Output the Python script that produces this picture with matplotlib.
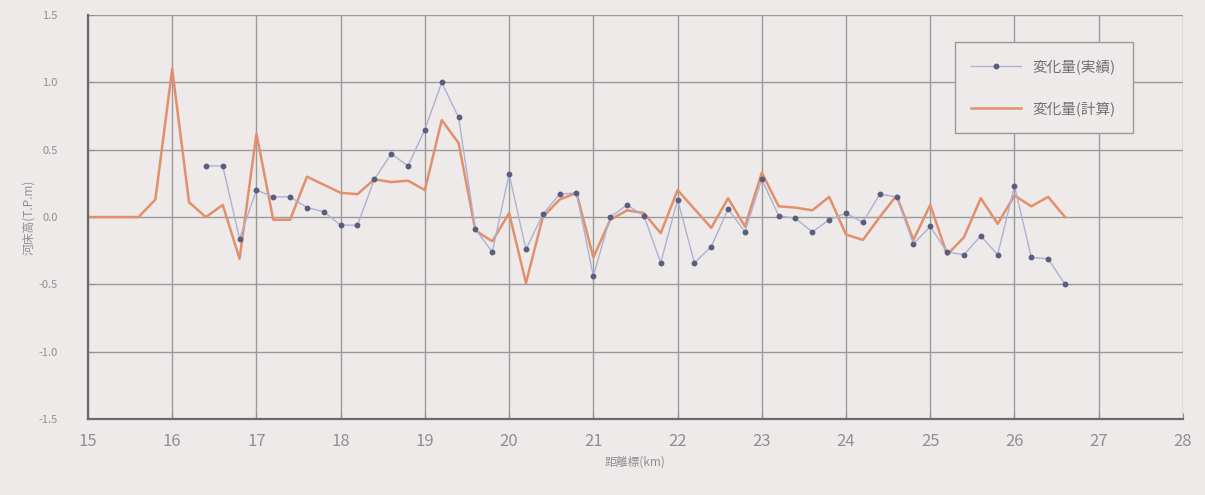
import matplotlib
matplotlib.use("Agg")
import matplotlib.pyplot as plt
import numpy as np

plt.rcParams["font.family"] = ["Noto Sans CJK JP", "DejaVu Sans"]

# ---------------------------------------------------------------------------
# Data: bed level change along the river (km posts, 0.2 km pitch)
# ---------------------------------------------------------------------------

KM_CALC = np.round(np.arange(15.0, 26.61, 0.2), 1)
CALC = [
    0.00, 0.00, 0.00, 0.00, 0.13, 1.10, 0.11, 0.00, 0.09, -0.31,
    0.62, -0.02, -0.02, 0.30, 0.24, 0.18, 0.17, 0.28, 0.26, 0.27,
    0.20, 0.72, 0.55, -0.10, -0.18, 0.03, -0.49, 0.00, 0.13, 0.18,
    -0.30, -0.02, 0.05, 0.03, -0.12, 0.20, 0.06, -0.08, 0.14, -0.07,
    0.33, 0.08, 0.07, 0.05, 0.15, -0.13, -0.17, 0.00, 0.16, -0.17,
    0.09, -0.28, -0.15, 0.14, -0.05, 0.16, 0.08, 0.15, 0.00,
]

KM_MEAS = np.round(np.arange(16.4, 26.61, 0.2), 1)
MEAS = [
    0.38, 0.38, -0.16, 0.20, 0.15, 0.15, 0.07, 0.04, -0.06, -0.06,
    0.28, 0.47, 0.38, 0.65, 1.00, 0.74, -0.09, -0.26, 0.32, -0.24,
    0.02, 0.17, 0.18, -0.44, 0.00, 0.09, 0.01, -0.34, 0.13, -0.34,
    -0.22, 0.06, -0.11, 0.28, 0.01, -0.01, -0.11, -0.02, 0.03, -0.04,
    0.17, 0.15, -0.20, -0.07, -0.26, -0.28, -0.14, -0.28, 0.23, -0.30,
    -0.31, -0.50,
]

LABEL_MEAS = "変化量(実績)"
LABEL_CALC = "変化量(計算)"
X_TICKS = list(range(15, 29))
Y_TICKS = [-1.5, -1.0, -0.5, 0.0, 0.5, 1.0, 1.5]

BG = "#efeaea"
TEXT = "#8f8f8f"


def main() -> None:
    fig = plt.figure(figsize=(12.05, 4.95), dpi=100, facecolor=BG)
    ax = fig.add_axes([0.073, 0.1535, 0.9087, 0.816], facecolor=BG)

    ax.plot(KM_MEAS, MEAS, color="#aab2d4", linewidth=1.0,
            marker="o", markersize=3.2, markerfacecolor="#5a5e7c",
            markeredgecolor="#5a5e7c", label=LABEL_MEAS, zorder=3)
    ax.plot(KM_CALC, CALC, color="#e2906c", linewidth=1.8,
            label=LABEL_CALC, zorder=2)

    ax.set_xlim(15, 28)
    ax.set_ylim(-1.5, 1.5)
    ax.set_xticks(X_TICKS)
    ax.set_yticks(Y_TICKS)
    ax.set_yticklabels([f"{v:.1f}" for v in Y_TICKS])
    ax.grid(True, color="#9a9a9a", linewidth=1.0)
    ax.set_axisbelow(True)

    for side in ("top", "right"):
        ax.spines[side].set_visible(False)
    for side in ("left", "bottom"):
        ax.spines[side].set_color("#6a6a6a")
        ax.spines[side].set_linewidth(1.6)

    ax.tick_params(axis="x", labelsize=12, colors=TEXT, length=4,
                   direction="in", pad=10)
    ax.tick_params(axis="y", labelsize=8, colors=TEXT, length=4,
                   direction="in", pad=22)

    ax.set_xlabel("距離標(km)", fontsize=8.5, color=TEXT, labelpad=4)
    ax.set_ylabel("河床高(T.P.m)", fontsize=8.5, color=TEXT, labelpad=2)

    leg = ax.legend(loc="upper right", bbox_to_anchor=(0.954, 0.933),
                    borderaxespad=0.0, fontsize=10.5, frameon=True,
                    fancybox=False, handlelength=3.4, labelspacing=1.9,
                    borderpad=1.15, labelcolor="#707070")
    leg.get_frame().set_facecolor(BG)
    leg.get_frame().set_edgecolor("#9a9a9a")
    leg.get_frame().set_alpha(1.0)

    plt.savefig("out.png", dpi=100, facecolor=BG)
    plt.close()


if __name__ == "__main__":
    main()
